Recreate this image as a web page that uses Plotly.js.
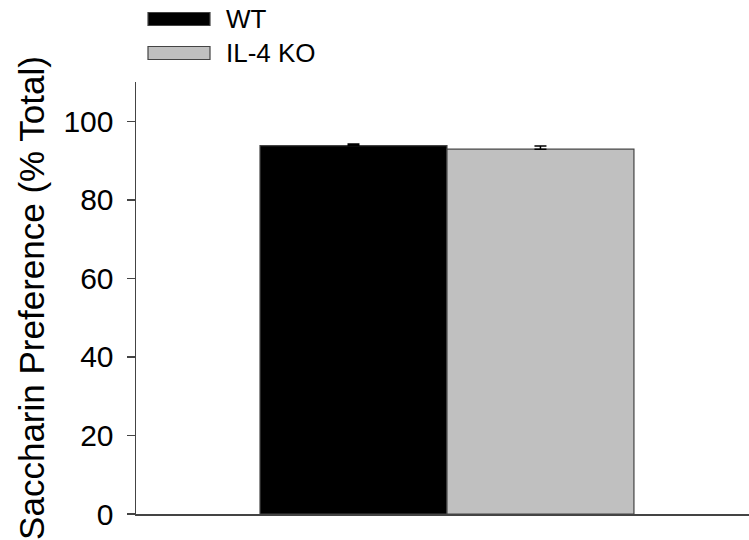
<!DOCTYPE html>
<html>
<head>
<meta charset="utf-8">
<script src="https://cdn.plot.ly/plotly-3.0.1.min.js"></script>
<style>html,body{margin:0;padding:0;background:#fff;}#chart{width:749px;height:540px;}</style>
</head>
<body>
<div id="chart"></div>
<script>
const categories = ['Saccharin'];
const seriesNames = ['WT', 'IL-4 KO'];
const wtValues = [93.8];
const wtErrors = [0.4];
const koValues = [92.9];
const koErrors = [0.8];
const yTickValues = [0, 20, 40, 60, 80, 100];
const yTickLabels = ['0', '20', '40', '60', '80', '100'];

const font = 'Liberation Sans, Arial, sans-serif';
const colors = ['#000000', '#c0c0c0'];

const traces = [
  {type: 'bar', name: seriesNames[0], x: categories, y: wtValues,
   marker: {color: colors[0], line: {color: '#444', width: 1.2}},
   error_y: {type: 'data', array: wtErrors, arrayminus: [0], symmetric: false, color: '#000', thickness: 1.5, width: 6}},
  {type: 'bar', name: seriesNames[1], x: categories, y: koValues,
   marker: {color: colors[1], line: {color: '#444', width: 1.2}},
   error_y: {type: 'data', array: koErrors, arrayminus: [0], symmetric: false, color: '#000', thickness: 1.5, width: 6}}
];

const legendShapes = [];
const legendAnn = [];
const legY = [19, 53];
seriesNames.forEach((n, i) => {
  legendShapes.push({type: 'rect', xref: 'paper', yref: 'paper',
    x0: (148 - 136) / 613, x1: (210 - 136) / 613,
    y0: (540 - 26 - (legY[i] + 6.5)) / 432, y1: (540 - 26 - (legY[i] - 6.5)) / 432,
    fillcolor: colors[i], line: {color: '#444', width: 1.2}});
  legendAnn.push({xref: 'paper', yref: 'paper', x: (224 - 136) / 613,
    y: (540 - 26 - legY[i]) / 432, xanchor: 'left', yanchor: 'middle',
    text: n, showarrow: false, font: {family: font, size: 26, color: '#000'}});
});

const layout = {
  width: 749, height: 540,
  margin: {l: 136, r: 0, t: 82, b: 26},
  paper_bgcolor: '#fff', plot_bgcolor: '#fff',
  barmode: 'group', bargap: 0.39, bargroupgap: 0,
  showlegend: false,
  font: {family: font, color: '#000'},
  xaxis: {type: 'category', range: [-0.5073, 0.4927], showticklabels: false, ticks: '',
    showline: true, linecolor: '#444', linewidth: 1.5, showgrid: false, zeroline: false, fixedrange: true},
  yaxis: {range: [0, 110], tickvals: yTickValues, ticktext: yTickLabels, ticks: 'outside', ticklen: 8,
    tickcolor: '#444', tickwidth: 1.5, showline: true, linecolor: '#444', linewidth: 1.5,
    showgrid: false, zeroline: false, tickfont: {family: font, size: 30, color: '#000'},
    ticklabelstandoff: 7,
    title: {text: 'Saccharin Preference (% Total)', font: {family: font, size: 35, color: '#000'}, standoff: 8}},
  shapes: legendShapes,
  annotations: legendAnn
};

Plotly.newPlot('chart', traces, layout, {displayModeBar: false, staticPlot: true});
</script>
</body>
</html>
